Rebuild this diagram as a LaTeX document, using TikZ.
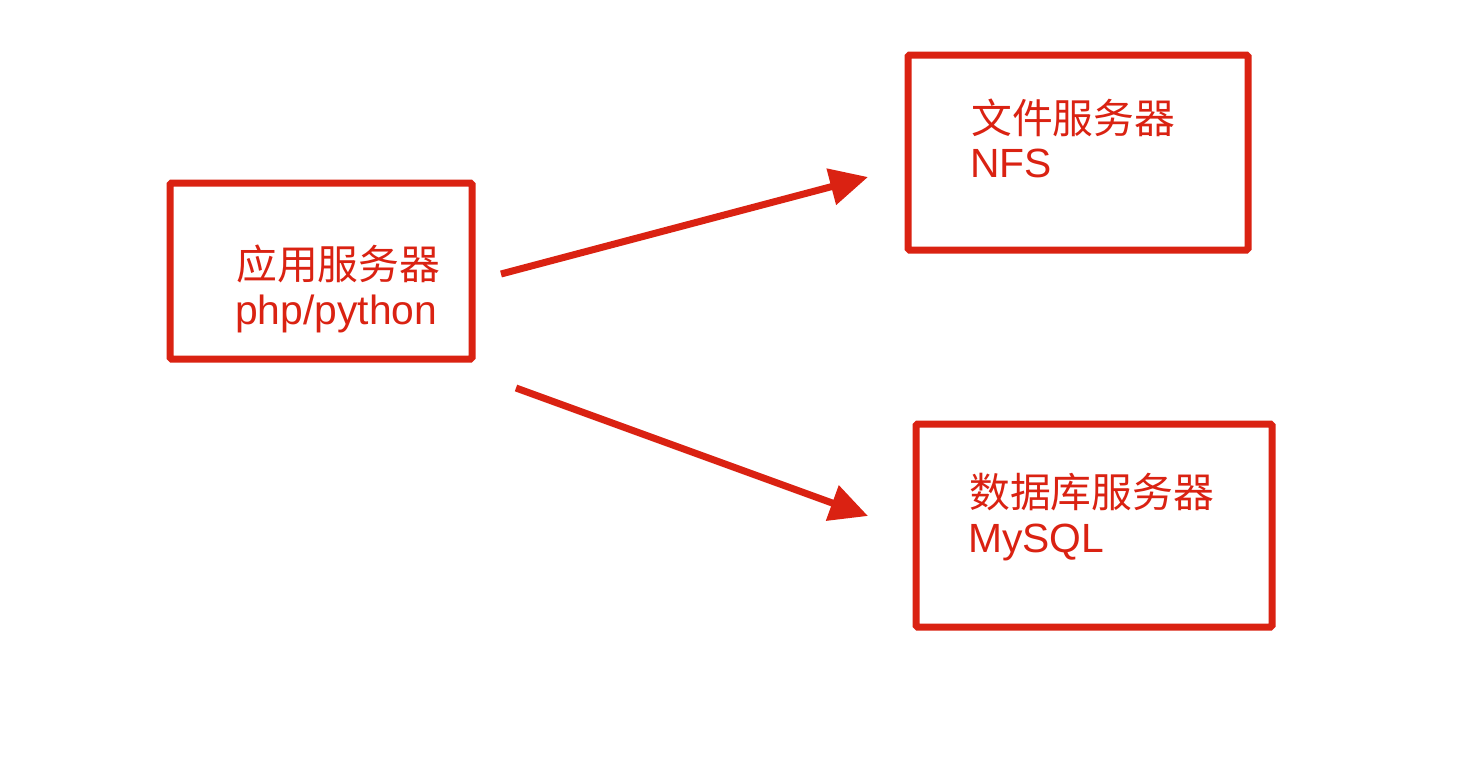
\documentclass[tikz,border=0pt]{standalone}
\usepackage{fontspec}
\setmainfont{Liberation Sans}
\newfontfamily\cjk{Noto Sans CJK SC}
\usetikzlibrary{arrows.meta}
\definecolor{redline}{RGB}{218,34,18}
\begin{document}
\begin{tikzpicture}[x=1pt,y=-1pt,
  box/.style={draw=redline,line width=7pt,rounded corners=1.5pt,inner sep=0pt},
  lbl/.style={anchor=base west,inner sep=0pt,text=redline,font=\fontsize{40.8}{45}\selectfont},
  conn/.style={draw=redline,line width=7pt,-{Triangle[length=38pt,width=36pt]}}]
\useasboundingbox (0,0) rectangle (1470,764);
\fill[white] (0,0) rectangle (1470,764);
% boxes
\node[box,minimum width=302pt,minimum height=176pt] (app) at (321,271) {};
\node[box,minimum width=340pt,minimum height=195pt] (nfs) at (1078,152.5) {};
\node[box,minimum width=356pt,minimum height=203pt] (db) at (1094,525.5) {};
% texts
\node[lbl] (t1a) at (236,279) {\cjk 应用服务器};
\node[lbl] (t1b) at (235,324) {php/python};
\node[lbl] (t2a) at (971,133) {\cjk 文件服务器};
\node[lbl] (t2b) at (970,177) {NFS};
\node[lbl] (t3a) at (969,507) {\cjk 数据库服务器};
\node[lbl] (t3b) at (968,552) {MySQL};
% connectors
\coordinate (a1s) at (501,274);
\coordinate (a1e) at (868,177);
\coordinate (a2s) at (516,388);
\coordinate (a2e) at (868,516);
\draw[conn] (a1s) -- (a1e);
\draw[conn] (a2s) -- (a2e);
\end{tikzpicture}
\end{document}
